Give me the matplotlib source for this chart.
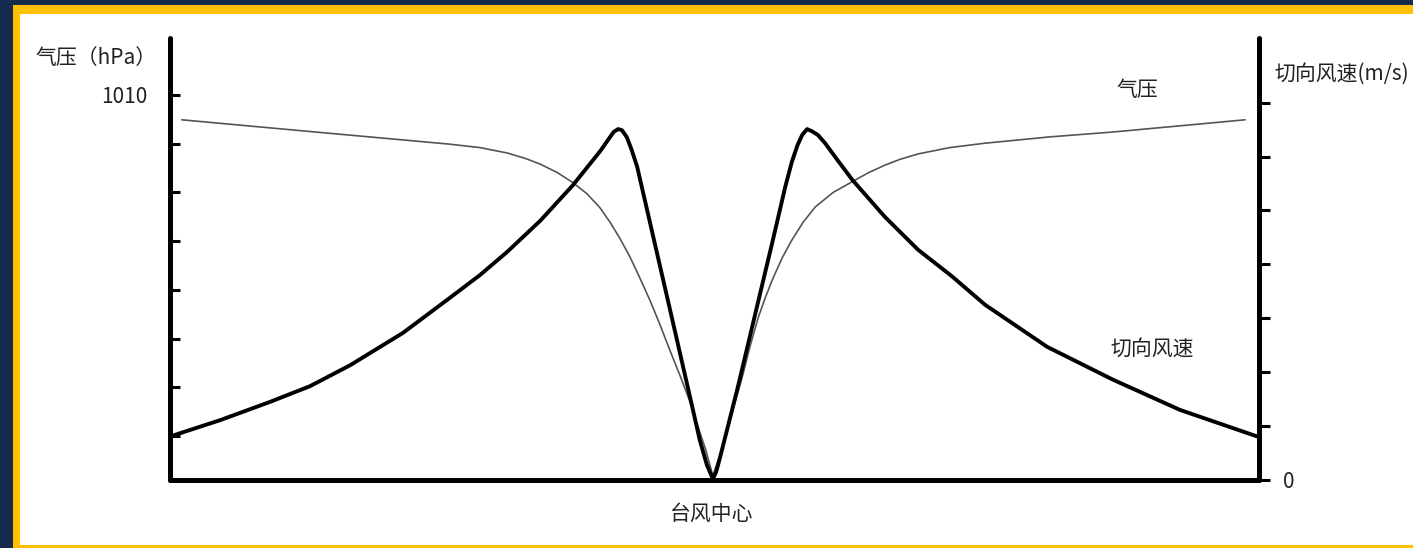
import matplotlib
matplotlib.use('Agg')
import matplotlib.pyplot as plt
from matplotlib.patches import Rectangle

plt.rcParams['font.family'] = ['Noto Sans CJK SC', 'DejaVu Sans']

# 距台风中心的距离（任意单位，左负右正）与切向风速 (m/s)
wind_x = [-99.6, -90.8, -81.6, -74.3, -66.9, -57.2, -48.6, -43.1, -38.1, -32.0,
          -26.0, -21.0, -19.2, -18.5, -17.7, -17.0, -16.1, -15.2, -14.2, -10.9,
          -7.6, -4.5, -2.7, -1.4, -0.3, 0.3, 1.0, 4.3, 8.0, 10.6,
          13.0, 14.2, 15.2, 16.1, 17.0, 17.9, 19.0, 20.3, 22.7, 25.3,
          31.3, 37.4, 43.6, 49.7, 61.1, 73.2, 85.5, 99.9]
wind_v = [8.2, 11.1, 14.5, 17.4, 21.3, 27.3, 33.8, 38.0, 42.3, 48.1,
          54.7, 61.0, 63.6, 64.6, 65.1, 64.9, 63.6, 61.2, 58.1, 43.6,
          29.1, 15.4, 7.4, 2.8, 0.2, 1.5, 4.1, 17.3, 33.0, 44.0,
          54.4, 59.0, 62.0, 64.0, 65.1, 64.7, 64.0, 62.5, 59.2, 55.7,
          48.8, 42.7, 37.8, 32.5, 24.7, 18.6, 13.0, 8.0]

# 气压 (hPa)
pres_x = [-97.8, -74.3, -48.6, -43.1, -38.1, -34.8, -32.0, -28.9, -26.0, -23.4,
          -21.0, -19.2, -17.4, -15.5, -13.7, -11.8, -10.0, -8.2, -6.3, -4.5,
          -2.7, -1.6, -0.3, 1.0, 2.5, 3.8, 5.1, 6.5, 8.0, 9.3,
          10.6, 12.4, 14.2, 16.3, 18.5, 21.8, 25.3, 28.2, 31.3, 34.1,
          37.4, 43.2, 49.7, 61.6, 73.2, 97.4]
pres_v = [1004.9, 1002.5, 999.9, 999.2, 998.1, 997.0, 995.8, 994.1, 992.0, 989.7,
          986.8, 983.9, 980.6, 976.7, 972.4, 967.7, 962.8, 957.6, 952.3, 947.0,
          940.8, 937.1, 931.8, 936.1, 941.6, 947.0, 952.1, 958.3, 964.2, 968.3,
          972.0, 976.5, 980.2, 983.9, 987.0, 990.0, 992.2, 994.0, 995.6, 996.8,
          997.9, 999.2, 1000.1, 1001.4, 1002.4, 1004.9]

pres_ticks = [940, 950, 960, 970, 980, 990, 1000, 1010]
pres_labels = ['', '', '', '', '', '', '', '1010']
wind_ticks = [0, 10, 20, 30, 40, 50, 60, 70]
wind_labels = ['0', '', '', '', '', '', '', '']

W, H = 1413, 548
fig = plt.figure(figsize=(W / 100, H / 100), dpi=100, facecolor='#152a4c')

# 黄色边框和白色底
fig.patches.append(Rectangle((13 / W, 0), 1, (H - 5) / H, transform=fig.transFigure,
                             facecolor='#FFC000', edgecolor='none', zorder=-2))
fig.patches.append(Rectangle((20 / W, 3 / H), 1, (H - 17) / H, transform=fig.transFigure,
                             facecolor='white', edgecolor='none', zorder=-1))

ax = fig.add_axes([170 / W, (H - 480) / H, (1259 - 170) / W, (480 - 38) / H])
ax.patch.set_alpha(0)
ax2 = ax.twinx()
ax2.patch.set_alpha(0)

ax.plot(pres_x, pres_v, color='#555555', lw=1.2, zorder=3)
ax2.plot(wind_x, wind_v, color='black', lw=2.8, solid_joinstyle='round', zorder=4)

ax.set_xlim(-100, 100)
ax.set_ylim(930.95, 1021.7)
ax2.set_ylim(0, 82)

for a in (ax, ax2):
    a.spines['top'].set_visible(False)
    for s in a.spines.values():
        s.set_linewidth(3.6)
        s.set_capstyle('round')
ax.spines['right'].set_visible(False)
ax2.spines['left'].set_visible(False)
ax2.spines['bottom'].set_visible(False)

ax.set_xticks([])
ax.set_yticks(pres_ticks)
ax.set_yticklabels(pres_labels)
ax.tick_params(axis='y', direction='in', length=7, width=2.2, pad=16,
               labelsize=15, labelcolor='#222222')
ax2.set_yticks(wind_ticks)
ax2.set_yticklabels(wind_labels)
ax2.tick_params(axis='y', direction='out', length=8, width=2.2, pad=9,
                labelsize=15, labelcolor='#222222')

def label(px, py, s, ha='center'):
    fig.text(px / W, 1 - py / H, s, ha=ha, va='center', fontsize=15, color='#222222')

label(35, 58, '气压（hPa）', ha='left')
label(1274, 74, '切向风速(m/s)', ha='left')
label(1137, 90, '气压')
label(1152, 349, '切向风速')
label(712, 514, '台风中心')

fig.savefig('out.png', dpi=100, facecolor=fig.get_facecolor())
